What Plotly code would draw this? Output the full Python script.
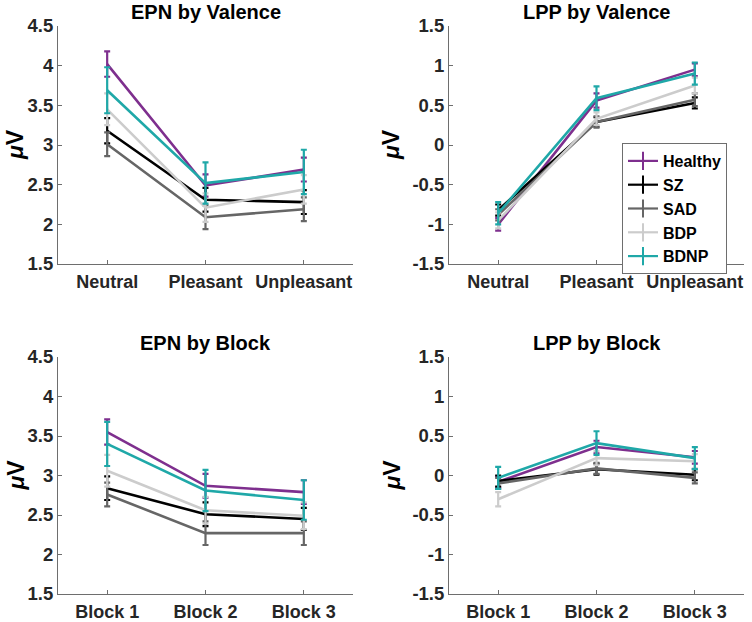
import plotly.graph_objects as go

groups = ["Healthy", "SZ", "SAD", "BDP", "BDNP"]
colors = ["#7E2F8E", "#000000", "#666666", "#CCCCCC", "#1FA8A8"]

valence_cats = ["Neutral", "Pleasant", "Unpleasant"]
block_cats = ["Block 1", "Block 2", "Block 3"]

# EPN by Valence (mean, SE)
epn_val_mean = {
    "Healthy": [4.02, 2.49, 2.69],
    "SZ": [3.18, 2.31, 2.28],
    "SAD": [3.01, 2.09, 2.19],
    "BDP": [3.45, 2.21, 2.44],
    "BDNP": [3.69, 2.52, 2.66],
}
epn_val_se = {
    "Healthy": [0.16, 0.14, 0.15],
    "SZ": [0.16, 0.15, 0.15],
    "SAD": [0.15, 0.15, 0.15],
    "BDP": [0.20, 0.18, 0.18],
    "BDNP": [0.29, 0.26, 0.28],
}
# LPP by Valence
lpp_val_mean = {
    "Healthy": [-1.00, 0.56, 0.95],
    "SZ": [-0.82, 0.29, 0.53],
    "SAD": [-0.88, 0.29, 0.57],
    "BDP": [-0.95, 0.33, 0.75],
    "BDNP": [-0.86, 0.59, 0.90],
}
lpp_val_se = {
    "Healthy": [0.08, 0.09, 0.08],
    "SZ": [0.07, 0.06, 0.07],
    "SAD": [0.07, 0.07, 0.08],
    "BDP": [0.10, 0.08, 0.10],
    "BDNP": [0.14, 0.15, 0.14],
}
# EPN by Block
epn_blk_mean = {
    "Healthy": [3.55, 2.87, 2.79],
    "SZ": [2.84, 2.51, 2.45],
    "SAD": [2.76, 2.27, 2.27],
    "BDP": [3.06, 2.56, 2.49],
    "BDNP": [3.40, 2.81, 2.69],
}
epn_blk_se = {
    "Healthy": [0.16, 0.15, 0.15],
    "SZ": [0.15, 0.15, 0.14],
    "SAD": [0.15, 0.15, 0.15],
    "BDP": [0.20, 0.17, 0.17],
    "BDNP": [0.28, 0.26, 0.25],
}
# LPP by Block
lpp_blk_mean = {
    "Healthy": [-0.08, 0.36, 0.23],
    "SZ": [-0.07, 0.08, 0.01],
    "SAD": [-0.10, 0.09, -0.03],
    "BDP": [-0.30, 0.22, 0.18],
    "BDNP": [-0.03, 0.41, 0.22],
}
lpp_blk_se = {
    "Healthy": [0.07, 0.08, 0.08],
    "SZ": [0.07, 0.07, 0.07],
    "SAD": [0.07, 0.07, 0.07],
    "BDP": [0.09, 0.09, 0.09],
    "BDNP": [0.14, 0.15, 0.14],
}

epn_ticks = [1.5, 2, 2.5, 3, 3.5, 4, 4.5]
lpp_ticks = [-1.5, -1, -0.5, 0, 0.5, 1, 1.5]

panels = [
    ("EPN by Valence", valence_cats, epn_val_mean, epn_val_se, epn_ticks, "x", "y"),
    ("LPP by Valence", valence_cats, lpp_val_mean, lpp_val_se, lpp_ticks, "x2", "y2"),
    ("EPN by Block", block_cats, epn_blk_mean, epn_blk_se, epn_ticks, "x3", "y3"),
    ("LPP by Block", block_cats, lpp_blk_mean, lpp_blk_se, lpp_ticks, "x4", "y4"),
]

W, H = 752, 622
px_dom = [
    ((58, 353), (26, 264)),
    ((449, 744), (26, 264)),
    ((58, 353), (357, 594)),
    ((449, 744), (357, 594)),
]
ylabel_x = [15, 391, 15, 391]

fig = go.Figure()
FONT = "Liberation Sans, Arial, sans-serif"
TXT = "#262626"
AX = "#6e6e6e"

for i, (title, cats, means, ses, ticks, xa, ya) in enumerate(panels):
    for g, c in zip(groups, colors):
        fig.add_trace(go.Scatter(
            x=cats, y=means[g], mode="lines", name=g,
            line=dict(color=c, width=2.6),
            error_y=dict(type="data", array=ses[g], visible=True,
                         color=c, thickness=2.2, width=3),
            xaxis=xa, yaxis=ya, showlegend=False,
        ))
    (x0, x1), (y0, y1) = px_dom[i]
    sfx = "" if i == 0 else str(i + 1)
    fig.layout["xaxis" + sfx] = dict(
        domain=[x0 / W, x1 / W], anchor=ya, automargin=False,
        type="category", categoryorder="array", categoryarray=cats,
        range=[-0.5, 2.5], showgrid=False, zeroline=False,
        showline=True, linecolor=AX, linewidth=1,
        ticks="inside", ticklen=4, tickcolor=AX,
        tickfont=dict(family=FONT, size=18, color=TXT, weight="bold"),
        ticklabelstandoff=1,
    )
    fig.layout["yaxis" + sfx] = dict(
        domain=[1 - y1 / H, 1 - y0 / H], anchor=xa, automargin=False,
        range=[ticks[0], ticks[-1]], tickvals=ticks,
        ticktext=[("%g" % t) for t in ticks],
        showgrid=False, zeroline=False,
        showline=True, linecolor=AX, linewidth=1,
        ticks="inside", ticklen=4, tickcolor=AX,
        tickfont=dict(family=FONT, size=18.5, color=TXT, weight="bold"),
    )
    fig.add_annotation(
        text="<b>%s</b>" % title, xref="paper", yref="paper",
        x=((x0 + x1) / 2) / W, y=1 - (y0 - 14) / H,
        xanchor="center", yanchor="middle", showarrow=False,
        font=dict(family=FONT, size=20, color="#000000"),
    )
    fig.add_annotation(
        text="<b><i>μ</i>V</b>", xref="paper", yref="paper",
        x=ylabel_x[i] / W, y=1 - ((y0 + y1) / 2) / H,
        xanchor="center", yanchor="middle", showarrow=False, textangle=-90,
        font=dict(family=FONT, size=23, color="#000000"),
    )

# legend-only entries (line with error-bar glyph)
for g, c in zip(groups, colors):
    fig.add_trace(go.Scatter(
        x=[None], y=[None], mode="lines+markers", name=g,
        line=dict(color=c, width=2.2),
        marker=dict(symbol="line-ns", size=13, color=c, line=dict(color=c, width=2)),
        xaxis="x2", yaxis="y2", showlegend=True,
    ))

fig.update_layout(
    width=W, height=H,
    margin=dict(l=0, r=0, t=0, b=0, autoexpand=False),
    paper_bgcolor="white", plot_bgcolor="white",
    legend=dict(
        x=622 / W, y=1 - 143 / H, xanchor="left", yanchor="top",
        bordercolor=AX, borderwidth=1, bgcolor="white",
        font=dict(family=FONT, size=16, color="#000000", weight="bold"),
        tracegroupgap=0, itemwidth=30,
    ),
    showlegend=True,
)

fig.write_html(
    "out.html",
    config={"displayModeBar": False},
    post_script="document.body.style.margin='0';document.body.style.padding='0';",
)
